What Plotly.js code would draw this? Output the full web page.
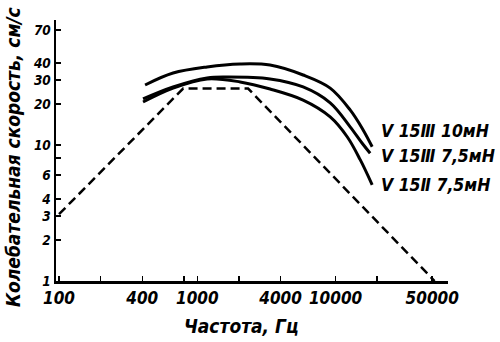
<!DOCTYPE html>
<html>
<head>
<meta charset="utf-8">
<script src="https://cdn.plot.ly/plotly-3.0.1.min.js"></script>
<style>html,body{margin:0;padding:0;background:#fff;}#chart{width:500px;height:342px;}</style>
</head>
<body>
<div id="chart"></div>
<script>
// Frequency (Hz) and velocity (cm/s)
const freqTop = [419, 668, 1177, 2039, 3359, 5823, 9141, 12740, 15820, 18390];
const velTop  = [27.6, 33.8, 37.5, 39.4, 38.7, 32.7, 26.2, 18.1, 12.9, 9.7];

const freqMid = [405, 668, 1177, 1642, 3359, 5823, 9141, 12740, 15570, 17780];
const velMid  = [21.8, 26.7, 31.1, 31.6, 30.6, 26.7, 20.4, 13.6, 10.3, 8.7];

const freqLow = [405, 668, 1177, 2039, 3359, 5823, 9141, 12130, 15060, 18390];
const velLow  = [20.7, 26.2, 30.6, 29.1, 25.8, 21.4, 16.1, 11.5, 7.8, 5.1];

const freqRef = [100, 790, 2330, 52000];
const velRef  = [3.1, 26, 26, 1];

const seriesNames = ["V 15Ⅲ 10мН", "V 15Ⅲ 7,5мН", "V 15Ⅱ 7,5мН"];
const xTitle = "Частота, Гц";
const yTitle = "Колебательная скорость, см/с";

const xTickVals = [100, 200, 400, 800, 1000, 2000, 4000, 10000, 20000, 50000];
const xTickText = ["100", "", "400", "", "1000", "", "4000", "10000", "", "50000"];
const yTickVals = [1, 2, 3, 4, 6, 8, 10, 20, 30, 40, 70];
const yTickText = ["1", "2", "3", "4", "6", "", "10", "20", "30", "40", "70"];

const FONT = "'DejaVu Sans Condensed', 'Liberation Sans Narrow', 'DejaVu Sans', sans-serif";
const txtFont = (s) => ({family: FONT, size: s, color: '#000', style: 'italic', weight: 'bold'});

const curveLine = {color: '#000', width: 3, shape: 'spline', smoothing: 1};

const traces = [
  {x: freqTop, y: velTop, mode: 'lines', line: curveLine, name: seriesNames[0], hoverinfo: 'skip'},
  {x: freqMid, y: velMid, mode: 'lines', line: curveLine, name: seriesNames[1], hoverinfo: 'skip'},
  {x: freqLow, y: velLow, mode: 'lines', line: curveLine, name: seriesNames[2], hoverinfo: 'skip'},
  {x: freqRef, y: velRef, mode: 'lines', line: {color: '#000', width: 2.5, dash: '9px,5px'}, hoverinfo: 'skip'}
];

const labelY = [0.575, 0.479, 0.368];
const annotations = seriesNames.map((t, i) => ({
  text: t, xref: 'paper', yref: 'paper', x: 0.825, y: labelY[i],
  xanchor: 'left', yanchor: 'middle', showarrow: false, font: txtFont(17.5)
}));
annotations.push({
  text: xTitle, xref: 'paper', yref: 'paper', x: 0.472, y: -0.172,
  xanchor: 'center', yanchor: 'middle', showarrow: false, font: txtFont(19)
});
annotations.push({
  text: yTitle, xref: 'paper', yref: 'paper', x: -0.11, y: 0.475,
  xanchor: 'center', yanchor: 'middle', textangle: -90, showarrow: false, font: txtFont(19)
});

const layout = {
  width: 500, height: 342,
  margin: {l: 56, r: 52, t: 20, b: 61},
  paper_bgcolor: '#fff', plot_bgcolor: '#fff',
  showlegend: false,
  font: txtFont(15),
  xaxis: {
    type: 'log', range: [1.978, 4.813],
    showgrid: false, zeroline: false,
    showline: true, linecolor: '#000', linewidth: 2.5,
    ticks: 'inside', ticklen: 5, tickwidth: 1.5, tickcolor: '#000',
    tickvals: xTickVals, ticktext: xTickText,
    tickfont: txtFont(17)
  },
  yaxis: {
    type: 'log', range: [0, 1.919],
    showgrid: false, zeroline: false,
    showline: true, linecolor: '#000', linewidth: 2.5,
    ticks: 'inside', ticklen: 5, tickwidth: 1.5, tickcolor: '#000',
    tickvals: yTickVals, ticktext: yTickText,
    tickfont: txtFont(13.5)
  },
  annotations: annotations
};

Plotly.newPlot('chart', traces, layout, {displayModeBar: false, staticPlot: true});
</script>
</body>
</html>
